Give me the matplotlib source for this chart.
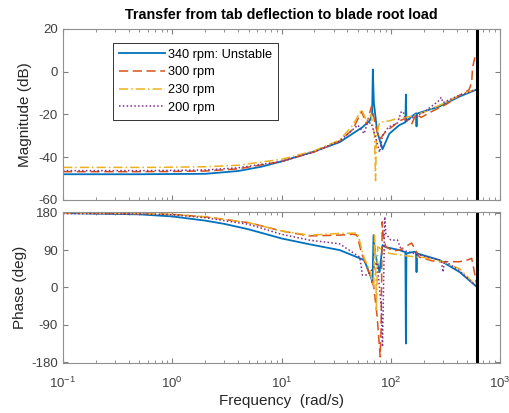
import matplotlib
matplotlib.use("Agg")
import matplotlib.pyplot as plt
import numpy as np

plt.rcParams['font.family'] = ['Liberation Sans', 'DejaVu Sans']
plt.rcParams['axes.unicode_minus'] = False

labels = ["340 rpm: Unstable", "300 rpm", "230 rpm", "200 rpm"]
colors = ["#0072BD", "#D95319", "#EDB120", "#7E2F8E"]
styles = ["-", (0, (6, 3)), (0, (6, 2, 1, 2)), (0, (1, 1.5))]

# magnitude (rad/s, dB)
w_mag_340 = [0.1, 0.5, 1, 2, 4, 6.5, 10, 19, 34, 55, 64, 67.5, 68.5, 70, 75, 84, 97, 120, 136, 137.5, 139, 160, 170, 172, 174, 279, 427, 615]
mag_340 = [-48, -48, -47.9, -47.8, -46.5, -44.5, -42, -37.7, -33, -26, -23, -20, 1, -14.4, -28, -36.3, -29, -25, -23.7, -10.7, -23, -20.5, -19.5, -25.6, -19.6, -16.3, -11.6, -8.3]

w_mag_300 = [0.1, 0.5, 1, 2, 4, 10, 20, 34, 45, 54, 60, 66.6, 74, 79, 90, 104, 120, 135, 155, 170, 190, 230, 322, 427, 520, 550, 560, 590, 615]
mag_300 = [-46.8, -46.8, -46.7, -46.5, -45.5, -42, -37.5, -32.5, -27, -18.6, -24.6, -16.3, -27, -31.6, -28, -25.6, -23, -22, -24.6, -20, -21.4, -19, -15.3, -11, -8.5, -5, 1.9, 7, 5]

w_mag_230 = [0.1, 0.5, 1, 2, 4, 10, 20, 34, 45, 54, 60, 66, 71, 72.5, 74, 79, 97, 113, 150, 200, 300, 427, 615]
mag_230 = [-44.8, -44.8, -44.7, -44.5, -43.8, -41, -37, -32, -25, -17.7, -23, -20, -30, -51, -30, -23.7, -23, -22, -21, -19, -15, -11, -8]

w_mag_200 = [0.1, 0.5, 1, 2, 4, 10, 20, 34, 50, 57, 61, 66, 72, 79, 84, 95, 115, 125, 130, 140, 200, 270, 290, 300, 427, 615]
mag_200 = [-46.3, -46.3, -46.2, -46, -45, -42, -37.5, -32.5, -25, -29, -24, -24, -30, -37.7, -30, -26, -24, -18.6, -19, -23, -19, -14, -12, -14.5, -11, -8.3]

# phase (rad/s, deg)
w_ph_340 = [0.1, 0.5, 1, 2, 3, 5, 10, 18, 34, 57, 66, 68, 69.5, 72, 79, 84, 90, 120, 136, 137.5, 139, 165, 170, 172, 174, 279, 427, 615]
ph_340 = [179, 176, 171, 161, 153, 140, 118, 104, 90, 66, 25, 11, 126, 80, 37, 102, 97, 90, 85, -135, 82, 86, 85, 37, 82, 66, 37, 1]

w_ph_300 = [0.1, 0.5, 1, 2, 5, 10, 18, 34, 45, 49, 54, 60, 66, 70, 75, 80, 81.5, 83.5, 85, 90, 104, 120, 140, 155, 183, 240, 279, 427, 500, 550, 570, 615]
ph_300 = [179, 178, 176, 170, 156, 136, 124, 126, 128, 126, 83, 50, 23, 0, -70, -167, -100, 158, 130, 98, 88, 90, 100, 107, 73, 64, 62, 62, 66, 70, 50, 3]

w_ph_230 = [0.1, 0.5, 1, 2, 5, 10, 18, 34, 49.6, 57, 64, 70, 71, 72.5, 74, 76, 79, 97, 150, 200, 279, 427, 615]
ph_230 = [179, 178, 176, 170, 156, 136, 126, 130, 131, 71, 42, 1, 126, 60, -54, 98, 95, 82, 75, 72, 64, 45, 2]

w_ph_200 = [0.1, 0.5, 1, 2, 5, 10, 18, 34, 52, 55, 61, 66, 75, 82, 84, 88, 90, 100, 115, 125, 200, 290, 300, 310, 427, 615]
ph_200 = [178, 177, 175, 168, 152, 128, 114, 105, 73, 30, 30, 40, 60, -50, -143, 170, 130, 114, 114, 90, 76, 65, 37, 64, 40, 1]

mag_w = [w_mag_340, w_mag_300, w_mag_230, w_mag_200]
mag_db = [mag_340, mag_300, mag_230, mag_200]
ph_w = [w_ph_340, w_ph_300, w_ph_230, w_ph_200]
ph_deg = [ph_340, ph_300, ph_230, ph_200]

w_limit = 615

fig = plt.figure(figsize=(5.1, 4.13), dpi=100)
ax1 = fig.add_axes([0.1235, 0.516, 0.857, 0.414])
ax2 = fig.add_axes([0.1235, 0.121, 0.857, 0.366])

lw = [1.3, 1.1, 1.1, 1.1]
for i in range(4):
	ax1.semilogx(mag_w[i], mag_db[i], color=colors[i], linestyle=styles[i], lw=lw[i], label=labels[i])
	ax2.semilogx(ph_w[i], ph_deg[i], color=colors[i], linestyle=styles[i], lw=lw[i])

for ax in [ax1, ax2]:
	ax.axvline(w_limit, color="black", lw=2.2)
	ax.set_xlim(0.1, 1000)
	ax.tick_params(which="both", direction="in", top=True, right=True, colors="#808080", labelcolor="#404040", labelsize=9.5)
	ax.tick_params(which="major", length=3.5)
	ax.tick_params(which="minor", length=2)
	for s in ax.spines.values():
		s.set_color("#909090")
		s.set_linewidth(0.8)

ax1.set_ylim(-60, 20)
ax1.set_yticks([-60, -40, -20, 0, 20])
ax1.set_xticklabels([])
ax1.tick_params(which="both", labelbottom=False)
ax2.set_ylim(-182, 182)
ax2.set_yticks([-180, -90, 0, 90, 180])
ax2.tick_params(axis="x", pad=9)

ax1.set_ylabel("Magnitude (dB)", fontsize=11, color="#262626", labelpad=5)
ax2.set_ylabel("Phase (deg)", fontsize=11, color="#262626", labelpad=3)
ax2.set_xlabel("Frequency  (rad/s)", fontsize=11, color="#262626", labelpad=2)
ax1.set_title("Transfer from tab deflection to blade root load", fontsize=10.3, fontweight="bold", pad=7)

leg = ax1.legend(loc="upper left", bbox_to_anchor=(0.114, 0.918), borderaxespad=0, fancybox=False,
	edgecolor="black", fontsize=9.2, handlelength=3.6, labelspacing=0.45, borderpad=0.45, handletextpad=0.3)
leg.get_frame().set_linewidth(0.7)

fig.savefig("out.png", dpi=100)
